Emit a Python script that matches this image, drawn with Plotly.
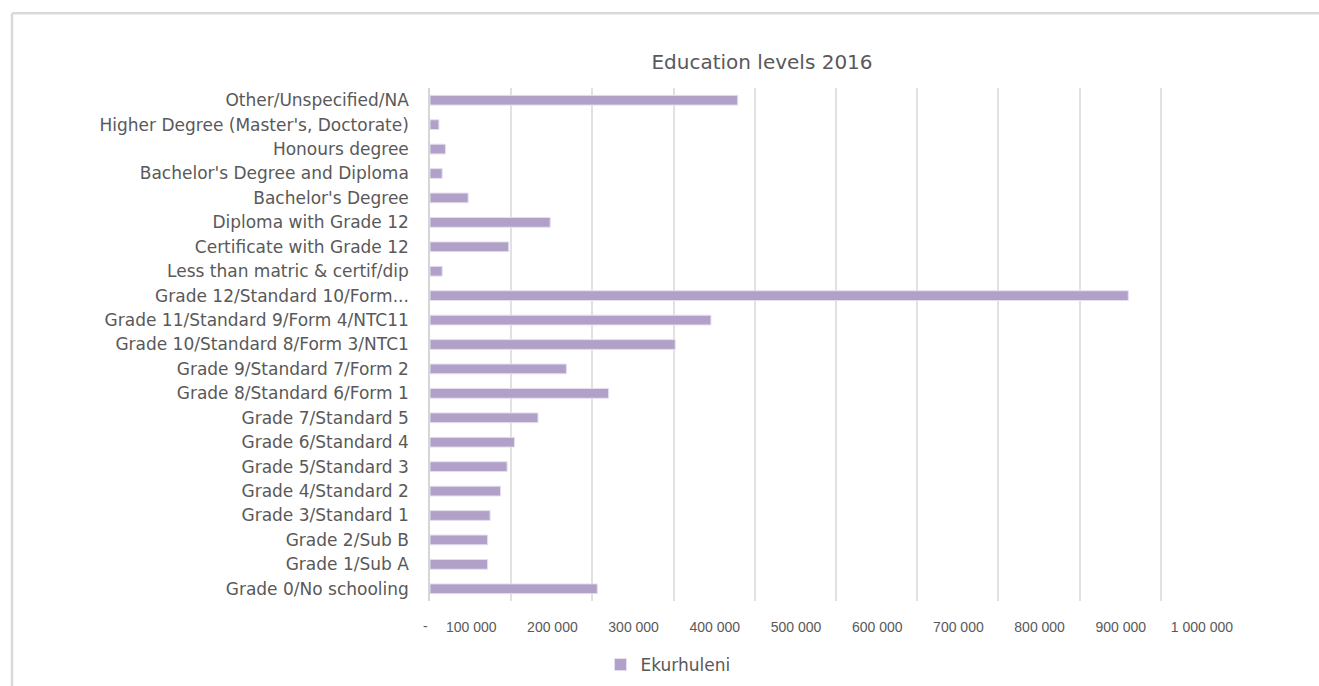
import plotly.graph_objects as go

# Education level counts for Ekurhuleni, 2016 (bottom-to-top order)
categories = [
    "Grade 0/No schooling",
    "Grade 1/Sub A",
    "Grade 2/Sub B",
    "Grade 3/Standard 1",
    "Grade 4/Standard 2",
    "Grade 5/Standard 3",
    "Grade 6/Standard 4",
    "Grade 7/Standard 5",
    "Grade 8/Standard 6/Form 1",
    "Grade 9/Standard 7/Form 2",
    "Grade 10/Standard 8/Form 3/NTC1",
    "Grade 11/Standard 9/Form 4/NTC11",
    "Grade 12/Standard 10/Form...",
    "Less than matric & certif/dip",
    "Certificate with Grade 12",
    "Diploma with Grade 12",
    "Bachelor's Degree",
    "Bachelor's Degree and Diploma",
    "Honours degree",
    "Higher Degree (Master's, Doctorate)",
    "Other/Unspecified/NA",
]
ekurhuleni = [
    206000, 71000, 71000, 74000, 87000, 95000, 104000, 133000, 220000,
    168000, 302000, 346000, 860000, 15000, 97000, 148000, 47000, 15000,
    19000, 11000, 379000,
]
x_tick_values = [0, 100000, 200000, 300000, 400000, 500000, 600000,
                 700000, 800000, 900000, 1000000]
x_tick_labels = ["", "100 000", "200 000", "300 000", "400 000", "500 000",
                 "600 000", "700 000", "800 000", "900 000", "1 000 000"]

W, H = 1319, 686
ML, MR, MT, MB = 430, 77, 88, 83
PW, PH = W - ML - MR, H - MT - MB

TEXT = "#595959"
GRID = "#e1e1e1"
BAR = "#b1a1c8"
LABEL_FONT = "DejaVu Sans"
TICK_FONT = "Liberation Sans, Arial, sans-serif"

fig = go.Figure(
    go.Bar(
        x=ekurhuleni,
        y=categories,
        orientation="h",
        name="Ekurhuleni",
        marker=dict(color=BAR, line=dict(color="#e6dff0", width=1)),
    )
)

def px_to_paper_x(px):
    return (px - ML) / PW

def px_to_paper_y(py):
    return (H - MB - py) / PH

fig.update_layout(
    width=W,
    height=H,
    autosize=False,
    margin=dict(l=ML, r=MR, t=MT, b=MB, pad=0),
    paper_bgcolor="white",
    plot_bgcolor="white",
    bargap=0.6,
    title=dict(
        text="Education levels 2016",
        x=762 / W,
        xref="container",
        xanchor="center",
        y=1 - 62 / H,
        yref="container",
        yanchor="middle",
        font=dict(family=LABEL_FONT, size=20, color=TEXT),
    ),
    showlegend=True,
    legend=dict(
        orientation="h",
        xref="container",
        yref="container",
        x=668 / W,
        xanchor="center",
        y=1 - 665 / H,
        yanchor="middle",
        font=dict(family=LABEL_FONT, size=17, color=TEXT),
        itemwidth=30,
    ),
    xaxis=dict(
        range=[0, 1000000],
        tickmode="array",
        tickvals=x_tick_values,
        ticktext=x_tick_labels,
        ticklabelshift=-40,
        ticklabelstandoff=16,
        showgrid=True,
        gridcolor=GRID,
        gridwidth=2,
        zeroline=False,
        showline=False,
        ticks="",
        tickfont=dict(family=TICK_FONT, size=14, color=TEXT),
        fixedrange=True,
    ),
    yaxis=dict(
        categoryorder="array",
        categoryarray=categories,
        showgrid=False,
        showline=True,
        linecolor="#d6d6d6",
        linewidth=1.5,
        ticks="",
        ticklabelstandoff=16,
        tickfont=dict(family=LABEL_FONT, size=17, color=TEXT),
        fixedrange=True,
    ),
    annotations=[
        dict(
            text="-",
            x=0,
            xref="x",
            xanchor="right",
            y=px_to_paper_y(628),
            yref="paper",
            yanchor="middle",
            showarrow=False,
            font=dict(family=TICK_FONT, size=14, color=TEXT),
        )
    ],
    shapes=[
        # chart-area frame (top and left edges)
        dict(type="line", xref="paper", yref="paper",
             x0=px_to_paper_x(12), x1=px_to_paper_x(W + 5),
             y0=px_to_paper_y(13), y1=px_to_paper_y(13),
             line=dict(color="#d9d9d9", width=2.5)),
        dict(type="line", xref="paper", yref="paper",
             x0=px_to_paper_x(12), x1=px_to_paper_x(12),
             y0=px_to_paper_y(13), y1=px_to_paper_y(H + 5),
             line=dict(color="#d9d9d9", width=2.5)),
    ],
)

fig.write_html("out.html")
